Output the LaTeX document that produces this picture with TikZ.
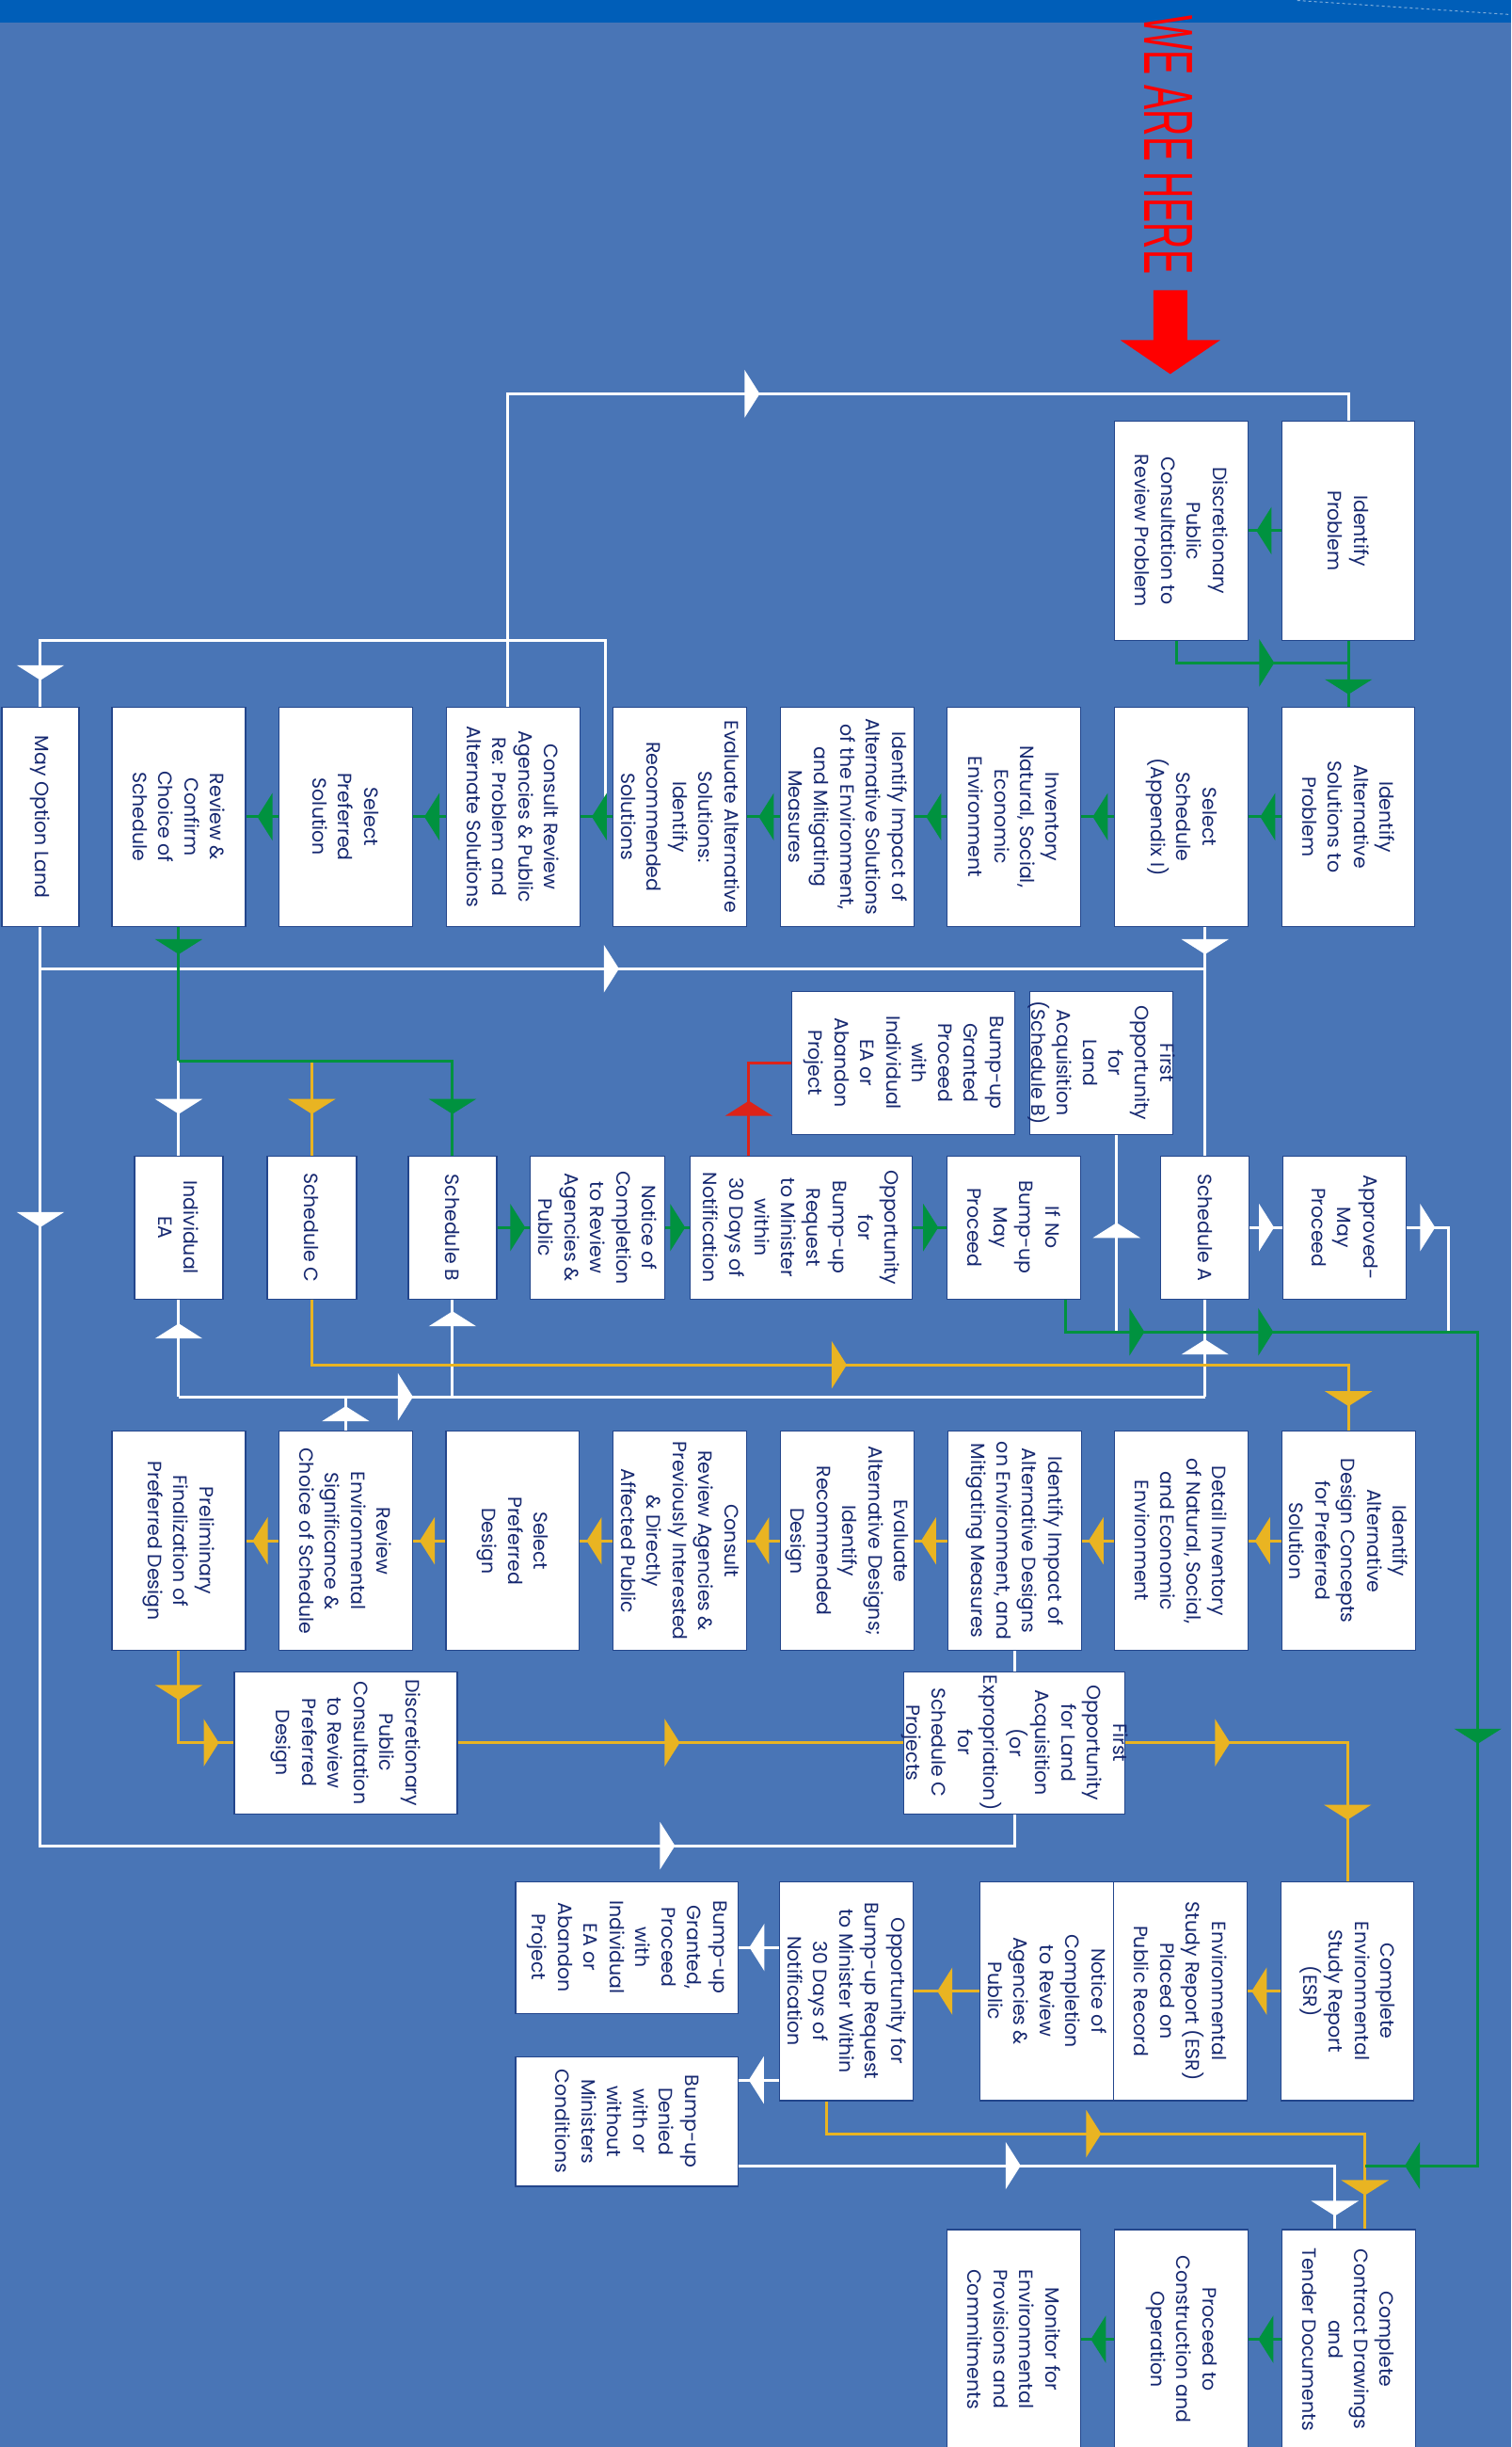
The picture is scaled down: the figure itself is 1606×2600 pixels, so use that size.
\documentclass[tikz,border=0pt]{standalone}
\usepackage{fontspec}
\setmainfont{Poppins}
\newfontfamily\herefont{Liberation Sans}
\usetikzlibrary{arrows.meta,decorations.markings}

\definecolor{bgblue}{RGB}{73,117,182}
\definecolor{bandblue}{RGB}{0,94,184}
\definecolor{txtnavy}{RGB}{22,40,112}
\definecolor{edgeblue}{RGB}{35,70,140}
\definecolor{flowgreen}{RGB}{0,146,63}
\definecolor{flowgold}{RGB}{233,180,34}
\definecolor{flowred}{RGB}{220,35,25}

\tikzset{
  box/.style={draw=edgeblue, line width=1.2pt, fill=white, inner sep=0pt,
    minimum width=142pt, minimum height=233pt},
  boxtext/.style={rotate=-90, align=center, text=txtnavy, inner sep=0pt,
    font=\fontsize{20.5}{27.5}\selectfont},
  flow/.style={line width=3pt},
  wline/.style={flow, white},
  gline/.style={flow, flowgreen},
  yline/.style={flow, flowgold},
  rline/.style={flow, flowred},
  midarrow/.style={postaction={decorate, decoration={markings,
    mark=at position #1 with {\arrow{Triangle[length=16pt,width=50pt]}}}}},
}

\begin{document}
\begin{tikzpicture}[x=1pt, y=-1pt, line cap=butt, line join=miter]
  % background
  \fill[bgblue] (0,0) rectangle (1606,2600);
  \fill[bandblue] (0,0) rectangle (1606,24);
  \draw[white, opacity=.5, dashed, line width=1pt] (1379,0) -- (1606,15);
  \useasboundingbox (0,0) rectangle (1606,2600);

  % we are here
  \node[rotate=-90, text=red, inner sep=0pt, font=\herefont\fontsize{74}{74}\selectfont]
    (here) at (1242.5,153.5) {\scalebox{0.53}[1]{WE ARE HERE}};
  \fill[red] (1226,308) -- (1262,308) -- (1262,361) -- (1297,361) -- (1244,397)
    -- (1191,361) -- (1226,361) -- cycle;

  % row 1
  \node[box, minimum width=141pt, label={[boxtext]center:{Identify\\Problem}}] (ip) at (1433.5,563.5) {};
  \node[box, label={[boxtext]center:{Discretionary\\Public\\Consultation to\\Review Problem}}] (dpc1) at (1256,563.5) {};
  \node[box, minimum width=141pt, label={[boxtext]center:{Identify\\Alternative\\Solutions to\\Problem}}] (ias) at (1433.5,867.5) {};
  \node[box, label={[boxtext]center:{Select\\Schedule\\(Appendix I)}}] (ss) at (1256,867.5) {};
  \node[box, label={[boxtext]center:{Inventory\\Natural, Social,\\Economic\\Environment}}] (inv) at (1078,867.5) {};
  \node[box, label={[boxtext]center:{Identify Impact of\\Alternative Solutions\\of the Environment,\\and Mitigating\\Measures}}] (iis) at (901,867.5) {};
  \node[box, label={[boxtext]center:{Evaluate Alternative\\Solutions:\\Identify\\Recommended\\Solutions}}] (eas) at (723,867.5) {};
  \node[box, label={[boxtext]center:{Consult Review\\Agencies \& Public\\Re: Problem and\\Alternate Solutions}}] (cra) at (545.5,867.5) {};
  \node[box, label={[boxtext]center:{Select\\Preferred\\Solution}}] (sps) at (367.5,867.5) {};
  \node[box, label={[boxtext]center:{Review \&\\Confirm\\Choice of\\Schedule}}] (rcs) at (190,867.5) {};
  \node[box, minimum width=82pt, label={[boxtext]center:{May Option Land}}] (mol) at (43,867.5) {};

  % between rows 1 and 2
  \node[box, minimum width=237pt, minimum height=152pt, label={[boxtext]center:{Bump-up\\Granted\\Proceed\\with\\Individual\\EA or\\Abandon\\Project}}] (bug1) at (960.5,1129) {};
  \node[box, minimum width=152pt, minimum height=152pt, label={[boxtext]center:{First\\Opportunity\\for\\Land\\Acquisition\\(Schedule B)}}] (fol1) at (1171,1129) {};

  % row 2
  \node[box, minimum width=94pt, minimum height=152pt, label={[boxtext]center:{Individual\\EA}}] (iea) at (190,1304) {};
  \node[box, minimum width=95pt, minimum height=152pt, label={[boxtext]center:{Schedule C}}] (sc) at (331.5,1304) {};
  \node[box, minimum width=94pt, minimum height=152pt, label={[boxtext]center:{Schedule B}}] (sb) at (481,1304) {};
  \node[box, minimum width=143pt, minimum height=152pt, label={[boxtext]center:{Notice of\\Completion\\to Review\\Agencies \&\\Public}}] (noc1) at (635.5,1304) {};
  \node[box, minimum width=236pt, minimum height=152pt, label={[boxtext]center:{Opportunity\\for\\Bump-up\\Request\\to Minister\\within\\30 Days of\\Notification}}] (obr1) at (852,1304) {};
  \node[box, minimum height=152pt, label={[boxtext]center:{If No\\Bump-up\\May\\Proceed}}] (inb) at (1078,1304) {};
  \node[box, minimum width=94pt, minimum height=152pt, label={[boxtext]center:{Schedule A}}] (sa) at (1281,1304) {};
  \node[box, minimum width=131pt, minimum height=152pt, label={[boxtext]center:{Approved-\\May\\Proceed}}] (amp) at (1429.5,1304) {};

  % row 3
  \node[box, label={[boxtext]center:{Preliminary\\Finalization of\\Preferred Design}}] (pfd) at (190,1637) {};
  \node[box, label={[boxtext]center:{Review\\Environmental\\Significance \&\\Choice of Schedule}}] (res) at (367.5,1637) {};
  \node[box, label={[boxtext]center:{Select\\Preferred\\Design}}] (spd) at (545,1637) {};
  \node[box, label={[boxtext]center:{Consult\\Review Agencies \&\\Previously Interested\\\& Directly\\Affected Public}}] (cra2) at (723,1637) {};
  \node[box, label={[boxtext]center:{Evaluate\\Alternative Designs;\\Identify\\Recommended\\Design}}] (ead) at (900.5,1637) {};
  \node[box, label={[boxtext]center:{Identify Impact of\\Alternative Designs\\on Environment, and\\Mitigating Measures}}] (iid) at (1078.5,1637) {};
  \node[box, label={[boxtext]center:{Detail Inventory\\of Natural, Social,\\and Economic\\Environment}}] (dinv) at (1255.5,1637) {};
  \node[box, label={[boxtext]center:{Identify\\Alternative\\Design Concepts\\for Preferred\\Solution}}] (iadc) at (1433.5,1637) {};

  % between rows 3 and 4
  \node[box, minimum width=237pt, minimum height=151pt, label={[boxtext]center:{Discretionary\\Public\\Consultation\\to Review\\Preferred\\Design}}] (dpc2) at (367.5,1851.5) {};
  \node[box, minimum width=235pt, minimum height=151pt, label={[boxtext]center:{First\\Opportunity\\for Land\\Acquisition\\(or\\Expropriation)\\for\\Schedule C\\Projects}}] (fol2) at (1078.5,1851.5) {};

  % row 4
  \node[box, minimum width=141pt, label={[boxtext]center:{Complete\\Environmental\\Study Report\\(ESR)}}] (cesr) at (1432.5,2115.5) {};
  \node[box, label={[boxtext]center:{Environmental\\Study Report (ESR)\\Placed on\\Public Record}}] (esrp) at (1255,2115.5) {};
  \node[box, label={[boxtext]center:{Notice of\\Completion\\to Review\\Agencies \&\\Public}}] (noc2) at (1113,2115.5) {};
  \node[box, label={[boxtext]center:{Opportunity for\\Bump-up Request\\to Minister Within\\30 Days of\\Notification}}] (obr2) at (900,2115.5) {};
  \node[box, minimum width=237pt, minimum height=140pt, label={[boxtext]center:{Bump-up\\Granted,\\Proceed\\with\\Individual\\EA or\\Abandon\\Project}}] (bug2) at (666.5,2069) {};
  \node[box, minimum width=237pt, minimum height=138pt, label={[boxtext]center:{Bump-up\\Denied\\with or\\without\\Ministers\\Conditions}}] (bud) at (666.5,2254) {};

  % row 5
  \node[box, label={[boxtext]center:{Complete\\Contract Drawings\\and\\Tender Documents}}] (ccd) at (1433.5,2485.5) {};
  \node[box, label={[boxtext]center:{Proceed to\\Construction and\\Operation}}] (pco) at (1256,2485.5) {};
  \node[box, label={[boxtext]center:{Monitor for\\Environmental\\Provisions and\\Commitments}}] (mon) at (1078,2485.5) {};

  % coordinates for the routing
  \coordinate (ttop) at (1433.5,418);
  \coordinate (dpcj) at (1251,704);
  \coordinate (jev) at (644,867.5);
  \coordinate (tmol) at (43,680);
  \coordinate (jmol) at (43,1029);
  \coordinate (jss) at (1281,1029);
  \coordinate (bmol) at (43,1961);
  \coordinate (rcj) at (190,1127);
  \coordinate (rj) at (796,1124);
  \coordinate (g1) at (1133,1415);
  \coordinate (g2) at (1571,1415);
  \coordinate (g3) at (1571,2301);
  \coordinate (g4) at (1451,2301);
  \coordinate (ampr) at (1540,1415);
  \coordinate (f1b) at (1187,1415);
  \coordinate (wl) at (190,1484);
  \coordinate (wr) at (1281,1484);
  \coordinate (y2) at (1433.5,1450);
  \coordinate (bd) at (785,2210);
  \coordinate (oy) at (879,2267);
  \coordinate (bw) at (785,2301);

  % white connectors
  \draw[wline, midarrow=600pt] (cra.north -| 540,0) |- (ttop) -- (ip.north);
  \draw[wline, midarrow=-28pt] (jev) |- (tmol) -- (mol.north);
  \draw[wline, midarrow=319pt, midarrow=1651pt] (mol.south) -- (bmol) -| (fol2.south);
  \draw[wline, midarrow=615pt] (jmol) -- (jss);
  \draw[wline, midarrow=29pt] (ss.south -| sa.north) -- (sa.north);
  \draw[wline, midarrow=-44pt] (rcj) -- (iea.north);
  \draw[wline, midarrow=-9pt] (sa.east) -- (amp.west);
  \draw[wline, midarrow=30pt] (amp.east) -| (ampr);
  \draw[wline, midarrow=116pt] (f1b) -- (fol1.south -| f1b);
  \draw[wline, midarrow=78pt] (wl) -- (iea.south);
  \draw[wline, midarrow=249pt] (wl) -- (wr);
  \draw[wline, midarrow=61pt] (wr) -- (sa.south);
  \draw[wline, midarrow=91pt] (sb.south |- wl) -- (sb.south);
  \draw[wline, midarrow=26pt] (res.north) -- (res.north |- wl);
  \draw[wline] (iid.south) -- (fol2.north);
  \draw[wline, midarrow=-11pt] (obr2.west |- bug2) -- (bug2.east);
  \draw[wline, midarrow=-11pt] (obr2.west |- bd) -- (bd);
  \draw[wline, midarrow=300pt, midarrow=-14pt] (bw) -| (ccd.north -| 1419,0);

  % gold connectors
  \draw[yline, midarrow=-44pt] (rcj -| sc.north) -- (sc.north);
  \draw[yline, midarrow=638pt, midarrow=-26pt] (sc.south) |- (y2) -- (iadc.north);
  \foreach \a/\b in {iadc/dinv, dinv/iid, iid/ead, ead/cra2, cra2/spd, spd/res, res/pfd}
    \draw[yline, midarrow=-7pt] (\a.west) -- (\b.east);
  \draw[yline, midarrow=52pt, midarrow=140pt] (pfd.south) |- (dpc2.west);
  \draw[yline, midarrow=236pt] (dpc2.east) -- (fol2.west);
  \draw[yline, midarrow=111pt, midarrow=-65pt] (fol2.east) -| (cesr.north);
  \draw[yline, midarrow=-4pt] (cesr.west) -- (esrp.east);
  \draw[yline, midarrow=45pt] (noc2.west) -- (obr2.east);
  \draw[yline, midarrow=326pt, midarrow=-36pt] (obr2.south -| oy) -- (oy) -| (ccd.north -| 1451,0);

  % green connectors
  \draw[gline, midarrow=-8pt] (ip.west) -- (dpc1.east);
  \draw[gline, midarrow=-13pt] (ip.south) -- (ias.north);
  \draw[gline, midarrow=127pt] (dpc1.south -| dpcj) |- (ip.south |- dpcj);
  \foreach \a/\b in {ias/ss, ss/inv, inv/iis, iis/eas, eas/cra, cra/sps, sps/rcs}
    \draw[gline, midarrow=-12pt] (\a.west) -- (\b.east);
  \draw[gline, midarrow=29pt] (rcs.south) -- (rcj);
  \draw[gline, midarrow=-44pt] (rcj) -| (sb.north);
  \draw[gline, midarrow=-5pt] (sb.east) -- (noc1.west);
  \draw[gline, midarrow=-5pt] (noc1.east) -- (obr1.west);
  \draw[gline, midarrow=-9pt] (obr1.east) -- (inb.west);
  \draw[gline, midarrow=118pt, midarrow=255pt, midarrow=910pt, midarrow=1436pt]
    (inb.south -| g1) -- (g1) -- (g2) -- (g3) -- (g4);
  \draw[gline, midarrow=-10pt] (ccd.west) -- (pco.east);
  \draw[gline, midarrow=-10pt] (pco.west) -- (mon.east);

  % red connector
  \draw[rline, midarrow=58pt] (obr1.north -| rj) |- (bug1.west);
\end{tikzpicture}
\end{document}
